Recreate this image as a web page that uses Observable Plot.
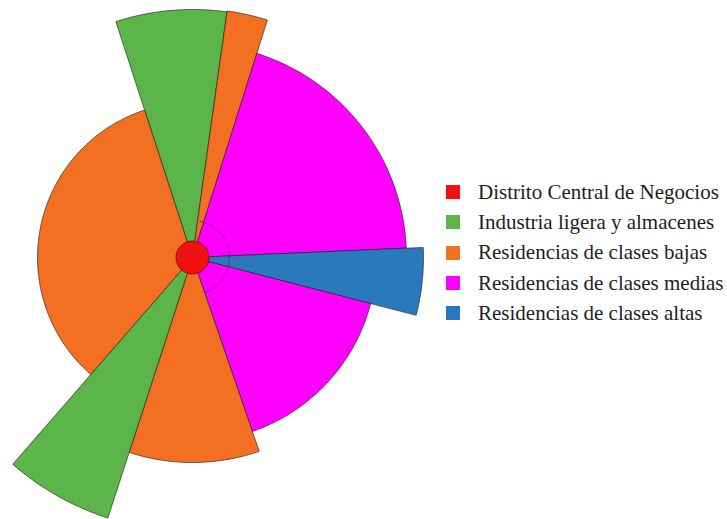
<!DOCTYPE html>
<html>
<head>
<meta charset="utf-8">
<script src="https://cdn.jsdelivr.net/npm/d3@7"></script>
<script src="https://cdn.jsdelivr.net/npm/@observablehq/plot@0.6"></script>
<style>
  html, body { margin: 0; padding: 0; background: #fff; }
  #wrap { position: relative; width: 727px; height: 519px; }
  #legend { position: absolute; left: 446px; top: 177px; font-family: "Liberation Serif", "Times New Roman", serif; font-size: 21px; color: #1e1e1e; }
  .row { display: flex; align-items: center; height: 30.3px; white-space: nowrap; }
  .sw { width: 14px; height: 14px; margin-right: 18px; flex: none; }
</style>
</head>
<body>
<div id="wrap"><div id="legend"></div></div>
<script>
// Legend categories and colours
const categories = [
  "Distrito Central de Negocios",
  "Industria ligera y almacenes",
  "Residencias de clases bajas",
  "Residencias de clases medias",
  "Residencias de clases altas"
];
const colors = ["#f21111", "#5cb548", "#f36f22", "#ff00ff", "#2a78bd"];

// Sectors (degrees clockwise from north) and their radii
const sectorCategory = [
  "Industria ligera y almacenes",
  "Residencias de clases bajas",
  "Residencias de clases medias",
  "Residencias de clases altas",
  "Residencias de clases medias",
  "Residencias de clases bajas",
  "Industria ligera y almacenes",
  "Residencias de clases bajas"
];
const sectorStart = [-18, 8, 17.5, 87.5, 104.5, 161, 198, 221];
const sectorEnd   = [8, 17.5, 87.5, 104.5, 161, 198, 221, 342];
const sectorRadius = [248, 249, 214, 231, 184, 205, 274, 155];

// CBD core and dashed ring
const cbdRadius = 16.5;
const ringRadius = 37;
const ringStart = 12;
const ringEnd = 164;

function arcPoints(id, a0, a1, r, withCenter) {
  const pts = [];
  if (withCenter) pts.push({id, x: 0, y: 0});
  const n = Math.max(2, Math.ceil(Math.abs(a1 - a0)));
  for (let i = 0; i <= n; i++) {
    const a = (a0 + (a1 - a0) * i / n) * Math.PI / 180;
    pts.push({id, x: r * Math.sin(a), y: r * Math.cos(a)});
  }
  if (withCenter) pts.push({id, x: 0, y: 0});
  return pts;
}

const sectorPts = [];
sectorCategory.forEach((c, i) => {
  arcPoints(i, sectorStart[i], sectorEnd[i], sectorRadius[i], true)
    .forEach(p => sectorPts.push({...p, cat: c}));
});
const ringPts = arcPoints("ring", ringStart, ringEnd, ringRadius, false);

const W = 727, H = 519, cx = 192, cy = 257;

const chart = Plot.plot({
  width: W,
  height: H,
  margin: 0,
  x: {domain: [-cx, W - cx], axis: null},
  y: {domain: [-(H - cy), cy], axis: null},
  color: {domain: categories, range: colors},
  marks: [
    Plot.line(sectorPts, {x: "x", y: "y", z: "id", fill: "cat", stroke: "#1a1a1a", strokeOpacity: 0.75, strokeWidth: 0.8, curve: "linear"}),
    Plot.line(ringPts, {x: "x", y: "y", stroke: "#6a0a7a", strokeOpacity: 0.8, strokeWidth: 1, strokeDasharray: "6,3"}),
    Plot.dot([{x: 0, y: 0, cat: categories[0]}], {x: "x", y: "y", r: cbdRadius, fill: "cat", stroke: "#5a1010", strokeWidth: 0.8})
  ]
});
const wrap = document.getElementById("wrap");
wrap.insertBefore(chart, wrap.firstChild);

const legend = document.getElementById("legend");
categories.forEach((c, i) => {
  const row = document.createElement("div");
  row.className = "row";
  const sw = document.createElement("span");
  sw.className = "sw";
  sw.style.background = colors[i];
  const t = document.createElement("span");
  t.textContent = c;
  row.appendChild(sw);
  row.appendChild(t);
  legend.appendChild(row);
});
</script>
</body>
</html>
